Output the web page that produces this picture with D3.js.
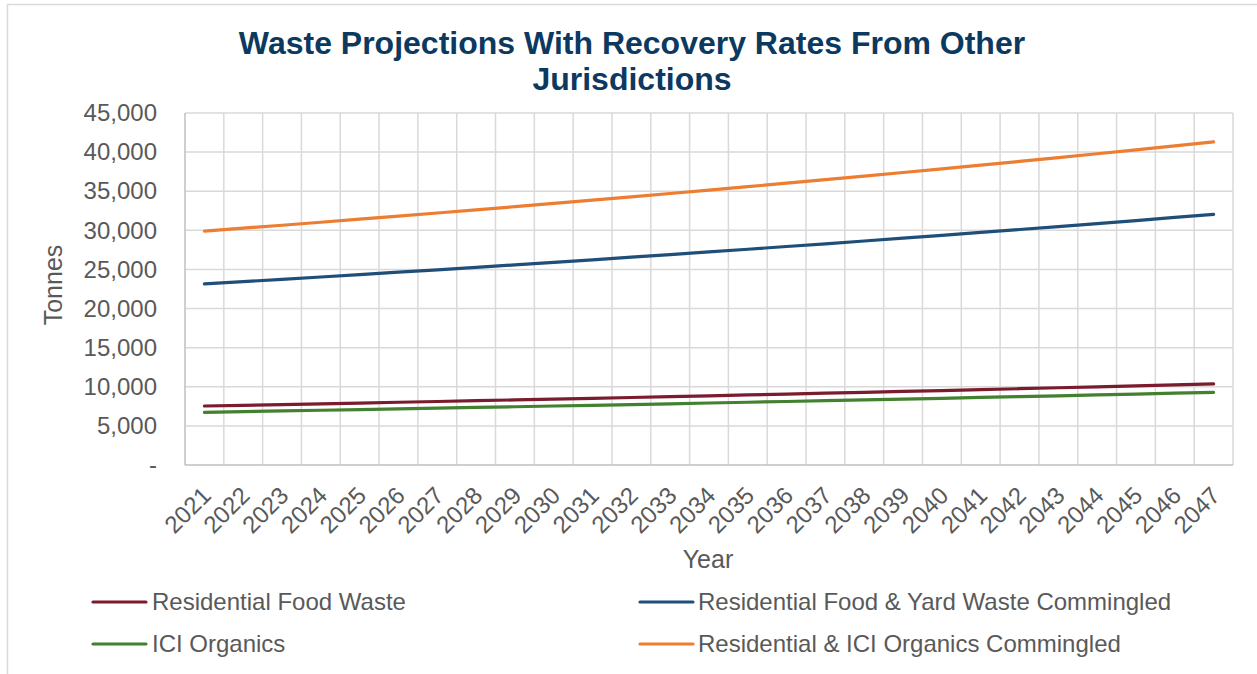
<!DOCTYPE html>
<html>
<head>
<meta charset="utf-8">
<script src="https://cdn.jsdelivr.net/npm/d3@7"></script>
<style>
  html, body { margin: 0; padding: 0; background: #ffffff; }
  svg { display: block; font-family: "Liberation Sans", Arial, sans-serif; }
</style>
</head>
<body>
<svg id="chart" width="1257" height="674"></svg>
<script>
// Projection years
const years = [2021, 2022, 2023, 2024, 2025, 2026, 2027, 2028, 2029, 2030, 2031, 2032, 2033, 2034,
  2035, 2036, 2037, 2038, 2039, 2040, 2041, 2042, 2043, 2044, 2045, 2046, 2047];

// Tonnes per year for each stream
const residentialFoodWaste = [7540, 7634, 7729, 7825, 7922, 8020, 8119, 8219, 8320, 8423, 8527, 8632,
  8738, 8846, 8955, 9065, 9176, 9289, 9403, 9518, 9635, 9753, 9873, 9994, 10116, 10240, 10365];
const residentialFoodYard = [23150, 23440, 23735, 24035, 24340, 24645, 24955, 25270, 25590, 25910,
  26235, 26565, 26900, 27240, 27580, 27930, 28280, 28635, 28995, 29360, 29730, 30105, 30480, 30865,
  31250, 31645, 32040];
const iciOrganics = [6740, 6825, 6911, 6998, 7086, 7175, 7265, 7356, 7448, 7541, 7635, 7730, 7826,
  7923, 8021, 8120, 8221, 8323, 8426, 8530, 8635, 8741, 8849, 8958, 9068, 9179, 9292];
const residentialIciCommingled = [29900, 30274, 30652, 31035, 31423, 31816, 32214, 32616, 33024,
  33437, 33855, 34278, 34707, 35141, 35580, 36025, 36475, 36931, 37393, 37860, 38333, 38812, 39298,
  39789, 40286, 40790, 41300];

const seriesNames = ["Residential Food Waste", "Residential Food & Yard Waste Commingled",
  "ICI Organics", "Residential & ICI Organics Commingled"];
const seriesColors = ["#7b1c2e", "#1f4e79", "#43802f", "#ed7d31"];
const seriesValues = [residentialFoodWaste, residentialFoodYard, iciOrganics, residentialIciCommingled];

const yTicks = [0, 5000, 10000, 15000, 20000, 25000, 30000, 35000, 40000, 45000];

const svg = d3.select("#chart");
const textColor = "#595959";
const plot = { left: 185, right: 1233, top: 113, bottom: 465 };

// Chart frame
svg.append("rect")
  .attr("x", 7.5).attr("y", 4.5)
  .attr("width", 1260).attr("height", 700)
  .attr("fill", "none").attr("stroke", "#d9d9d9").attr("stroke-width", 1.5);

// Title
svg.append("text")
  .attr("x", 632).attr("text-anchor", "middle")
  .attr("font-size", 32).attr("font-weight", "bold").attr("fill", "#0c3960")
  .selectAll("tspan")
  .data(["Waste Projections With Recovery Rates From Other", "Jurisdictions"])
  .join("tspan")
  .attr("x", 632)
  .attr("y", (d, i) => 54 + i * 36)
  .text(d => d);

const x = d3.scaleBand().domain(years).range([plot.left, plot.right]).padding(0);
const y = d3.scaleLinear().domain([0, 45000]).range([plot.bottom, plot.top]);

// Horizontal gridlines
svg.append("g")
  .selectAll("line")
  .data(yTicks.filter(t => t > 0))
  .join("line")
  .attr("x1", plot.left).attr("x2", plot.right)
  .attr("y1", d => y(d)).attr("y2", d => y(d))
  .attr("stroke", "#d9d9d9").attr("stroke-width", 1.5);

// Vertical gridlines at category boundaries
const bounds = years.map(yr => x(yr)).concat([x(years[years.length - 1]) + x.bandwidth()]);
svg.append("g")
  .selectAll("line")
  .data(bounds.slice(1))
  .join("line")
  .attr("x1", d => d).attr("x2", d => d)
  .attr("y1", plot.top).attr("y2", plot.bottom)
  .attr("stroke", "#d9d9d9").attr("stroke-width", 1.5);

// Axis lines
svg.append("line")
  .attr("x1", plot.left).attr("x2", plot.left)
  .attr("y1", plot.top).attr("y2", plot.bottom)
  .attr("stroke", "#bfbfbf").attr("stroke-width", 1.5);
svg.append("line")
  .attr("x1", plot.left).attr("x2", plot.right)
  .attr("y1", plot.bottom).attr("y2", plot.bottom)
  .attr("stroke", "#bfbfbf").attr("stroke-width", 1.5);

// Y axis tick labels
const fmt = d3.format(",");
const yAxis = d3.axisLeft(y).tickValues(yTicks).tickSize(0).tickPadding(28)
  .tickFormat(d => d === 0 ? "-" : fmt(d));
const gy = svg.append("g").attr("transform", `translate(${plot.left},0)`).call(yAxis);
gy.select(".domain").remove();
gy.selectAll("text").attr("font-size", 24).attr("fill", textColor)
  .attr("font-family", "Liberation Sans, Arial, sans-serif");

// X axis tick labels, rotated
svg.append("g")
  .selectAll("text")
  .data(years)
  .join("text")
  .attr("transform", d => `translate(${x(d) + x.bandwidth() / 2 + 2},${plot.bottom + 26}) rotate(-45)`)
  .attr("text-anchor", "end")
  .attr("dy", "0.35em")
  .attr("font-size", 24).attr("fill", textColor)
  .text(d => d);

// Axis titles
svg.append("text")
  .attr("transform", "translate(62,285) rotate(-90)")
  .attr("text-anchor", "middle")
  .attr("font-size", 25).attr("fill", textColor)
  .text("Tonnes");
svg.append("text")
  .attr("x", 708).attr("y", 568)
  .attr("text-anchor", "middle")
  .attr("font-size", 25).attr("fill", textColor)
  .text("Year");

// Series lines
const line = d3.line()
  .x((d, i) => x(years[i]) + x.bandwidth() / 2)
  .y(d => y(d));
svg.append("g")
  .selectAll("path")
  .data(seriesValues)
  .join("path")
  .attr("d", d => line(d))
  .attr("fill", "none")
  .attr("stroke", (d, i) => seriesColors[i])
  .attr("stroke-width", 3.2)
  .attr("stroke-linecap", "round")
  .attr("stroke-linejoin", "round");

// Legend
const legendPos = [
  { lx: 93, tx: 152, y: 602 },
  { lx: 640, tx: 698, y: 602 },
  { lx: 93, tx: 152, y: 644 },
  { lx: 640, tx: 698, y: 644 }
];
const legend = svg.append("g")
  .selectAll("g")
  .data(seriesNames)
  .join("g")
  .attr("transform", (d, i) => `translate(0,${legendPos[i].y})`);
legend.append("line")
  .attr("x1", (d, i) => legendPos[i].lx)
  .attr("x2", (d, i) => legendPos[i].lx + 53)
  .attr("stroke", (d, i) => seriesColors[i])
  .attr("stroke-width", 3.2)
  .attr("stroke-linecap", "round");
legend.append("text")
  .attr("x", (d, i) => legendPos[i].tx)
  .attr("dy", "0.35em")
  .attr("font-size", 24).attr("fill", textColor)
  .text(d => d);
</script>
</body>
</html>
